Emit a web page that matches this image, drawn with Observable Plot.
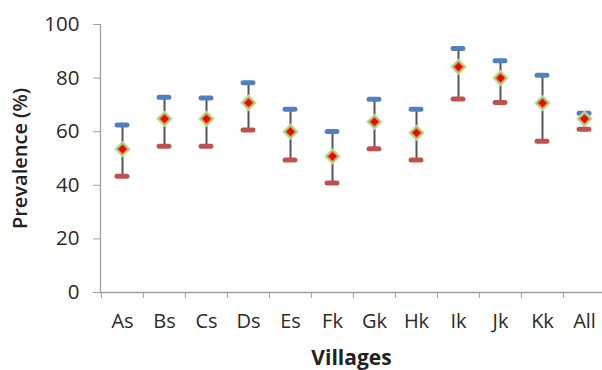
<!DOCTYPE html>
<html>
<head>
<meta charset="utf-8">
<script src="https://cdn.jsdelivr.net/npm/d3@7"></script>
<script src="https://cdn.jsdelivr.net/npm/@observablehq/plot@0.6"></script>
<style>
  html, body { margin: 0; padding: 0; background: #fff; overflow: hidden; }
  #chart svg { display: block; }
</style>
</head>
<body>
<div id="chart"></div>
<script>
const villages   = ["As", "Bs", "Cs", "Ds", "Es", "Fk", "Gk", "Hk", "Ik", "Jk", "Kk", "All"];
const prevalence = [53.5, 64.8, 64.8, 70.8, 60.0, 50.8, 63.7, 59.6, 84.2, 80.0, 70.7, 64.8];
const upperCI    = [62.5, 72.9, 72.6, 78.3, 68.4, 60.1, 72.1, 68.4, 91.0, 86.5, 81.1, 66.9];
const lowerCI    = [43.4, 54.6, 54.6, 60.6, 49.4, 40.9, 53.6, 49.4, 72.2, 70.9, 56.4, 60.9];
const yTicks     = [0, 20, 40, 60, 80, 100];
const xTitle = "Villages";
const yTitle = "Prevalence (%)";

const data = villages.map((v, i) => ({village: v, p: prevalence[i], hi: upperCI[i], lo: lowerCI[i]}));

const x0 = 100, x1 = 606;
const bw = (x1 - x0) / villages.length;
const capInset = (bw + 5 - 15) / 2;
const axisColor = "#a0a0a0";
const font = "'Open Sans', sans-serif";

const chart = Plot.plot({
  width: 602,
  height: 370,
  marginTop: 24,
  marginBottom: 78,
  marginLeft: 100,
  marginRight: 0,
  style: {fontFamily: font, fontSize: "20px", color: "#333", background: "#fff"},
  x: {domain: villages, range: [x0, x1], padding: 0, label: null},
  y: {domain: [0, 100], label: null},
  marks: [
    Plot.axisY({ticks: yTicks, tickSize: 7, tickPadding: 14, stroke: axisColor, fill: "#2a2a2a", fontSize: 20.5, label: null}),
    Plot.axisX({tickSize: 6, dx: -bw / 2, tickFormat: () => "", stroke: axisColor, label: null}),
    Plot.axisX({tickSize: 0, tickPadding: 21, fill: "#2a2a2a", fontSize: 20, label: null}),
    Plot.frame({anchor: "left", stroke: axisColor, strokeWidth: 1.3}),
    Plot.ruleY([0], {stroke: axisColor, strokeWidth: 1.3}),
    Plot.ruleX(data, {x: "village", y1: "lo", y2: "hi", stroke: "#555", strokeWidth: 2}),
    Plot.tickY(data, {x: "village", y: "hi", stroke: "#4f81bd", strokeWidth: 5, strokeLinecap: "round", insetLeft: capInset, insetRight: capInset}),
    Plot.tickY(data, {x: "village", y: "lo", stroke: "#c0504d", strokeWidth: 5, strokeLinecap: "round", insetLeft: capInset, insetRight: capInset}),
    Plot.dot(data, {x: "village", y: "p", symbol: "diamond2", r: 6.6, fill: "#9bbb59", stroke: "#c6d9a0", strokeWidth: 1.5}),
    Plot.dot(data, {x: "village", y: "p", symbol: "diamond2", r: 3.9, fill: "#ff0000"}),
    Plot.text([yTitle], {frameAnchor: "left", dx: -80, rotate: -90, textAnchor: "middle", lineAnchor: "middle", fontSize: 20, fontWeight: 600, fill: "#222"}),
    Plot.text([xTitle], {frameAnchor: "bottom", dy: 58, lineAnchor: "top", textAnchor: "middle", fontSize: 21, fontWeight: "bold", fill: "#222"})
  ]
});
document.getElementById("chart").appendChild(chart);
</script>
</body>
</html>
